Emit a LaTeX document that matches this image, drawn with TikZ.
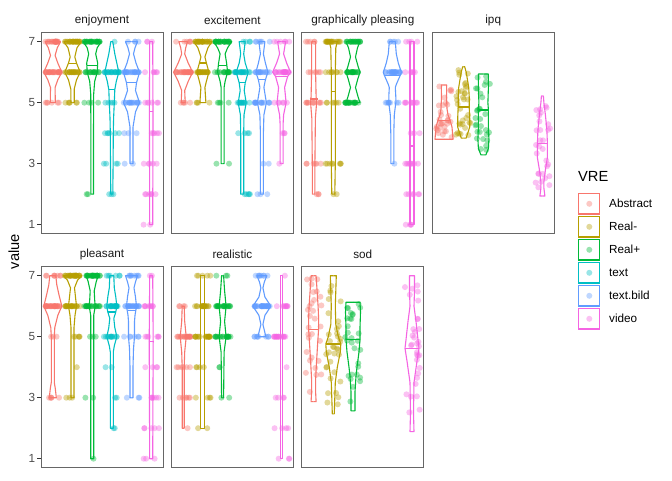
\documentclass[tikz,border=0pt]{standalone}
\usepackage{fontspec}
\setmainfont{Liberation Sans}
\definecolor{cA}{HTML}{F8766D}
\definecolor{cB}{HTML}{B79F00}
\definecolor{cC}{HTML}{00BA38}
\definecolor{cD}{HTML}{00BFC4}
\definecolor{cE}{HTML}{619CFF}
\definecolor{cF}{HTML}{F564E3}
\definecolor{axtxt}{HTML}{4D4D4D}
\definecolor{striptxt}{HTML}{1A1A1A}
\tikzset{
  dotp/.style={circle,inner sep=0pt,minimum size=6pt,draw=none,fill=#1,fill opacity=0.4},
  vln/.style={draw=#1,line width=1.1pt,line join=round},
  pborder/.style={draw=black!60,line width=0.9pt},
  tickln/.style={draw=black!80,line width=0.9pt},
  ticklab/.style={anchor=east,inner sep=0pt,text=axtxt,font=\fontsize{11.73}{13}\selectfont},
  striplab/.style={inner sep=0pt,text=striptxt,font=\fontsize{11.73}{13}\selectfont},
  legkey/.style={draw=#1,line width=1.1pt,fill=white},
  leglab/.style={anchor=west,inner sep=0pt,font=\fontsize{11.73}{13}\selectfont},
  bigtxt/.style={inner sep=0pt,font=\fontsize{14.67}{16}\selectfont}
}
\newcommand\pts[3]{\foreach \pv/\pn in {#3}{\foreach \pk in {1,...,\pn}{\pgfmathsetmacro\jx{#1+7.9*rand}\node[dotp=#2] at (\jx,\pv) {};}}}
% continuous points: cx, colour, low, high, list centre/spread/count
\newcommand\cpts[5]{\foreach \mc/\ms/\mn in {#5}{\foreach \pk in {1,...,\mn}{\pgfmathsetmacro\jx{#1+7.9*rand}\pgfmathsetmacro\jy{max(#3,min(#4,\mc+\ms*rand))}\node[dotp=#2] at (\jx,\jy) {};}}}
\newcommand\vio[4]{\foreach \sg in {1,-1}{\draw[vln=#2,xshift=#1pt,xscale=\sg] (0,#3) \foreach \vv/\ww in {#4}{-- (\ww,\vv)};}}
\newcommand\med[4]{\draw[vln=#2] ({#1-#4},#3) -- ({#1+#4},#3);}
\newcommand\yticks{\foreach \t in {1,3,5,7}{\draw[tickln] (-3.7,\t) -- (0,\t); \node[ticklab] at (-5.6,\t) {\t};}}
\newcommand\pframe[2]{\draw[pborder] (0,0.7) rectangle (122,7.3); \node[striplab] (#1) at (61,7.3) [yshift=12pt] {#2};}
\begin{document}
\begin{tikzpicture}[x=1pt,y=1pt]
\pgfmathsetseed{4242}
\fill[white] (0,0) rectangle (672,480);
\useasboundingbox (0,0) rectangle (672,480);
% ---------------- enjoyment
\begin{scope}[shift={(41pt,224.8pt)},y=30.5pt]
\pts{11.8}{cA}{7/20,6/25,5/6}
\pts{31.5}{cB}{7/25,6/20,5/6}
\pts{51.2}{cC}{7/25,6/15,5/4,2/2}
\pts{70.8}{cD}{7/1,6/20,5/5,4/6,3/4,2/3}
\pts{90.5}{cE}{7/4,6/20,5/15,4/3,3/2}
\pts{110.2}{cF}{7/3,6/5,5/6,4/5,3/5,2/6,1/2}
\vio{11.8}{cA}{7}{7/7.7,6.8/4.5,6.55/2.3,6.3/5,6/9,5.75/5,5.5/2.3,5/2.5,5/0}
\vio{31.5}{cB}{7}{7/8.7,6.8/4.5,6.5/2.3,6.3/4,6/7.7,5.75/4,5.45/1.7,5/1.7,5/0}
\med{31.5}{cB}{6.28}{4}
\vio{51.2}{cC}{7}{7/9,6.8/5,6.6/3.5,6.3/5.5,6/5,5.7/2.5,5.3/1.5,4/1.3,2/1.3,2/0}
\med{51.2}{cC}{6.22}{5.3}
\vio{70.8}{cD}{7}{7/1,6.6/3,6/7,5.7/4.5,5.43/3,5/2.5,4.5/1.8,4/1.5,3/1.3,2/1,2/0}
\med{70.8}{cD}{5.43}{3}
\vio{90.5}{cE}{7}{7/6,6.8/3.5,6.6/2,6.3/4.5,6/8,5.65/5,5.4/4,5/8,4.7/4,4.2/1.5,3/1.5,3/0}
\med{90.5}{cE}{5.65}{5}
\vio{110.2}{cF}{7}{7/1.5,4.7/1.8,1/1.5,1/0}
\med{110.2}{cF}{4.7}{1.8}
\yticks
\pframe{s1}{enjoyment}
\end{scope}
% ---------------- excitement
\begin{scope}[shift={(171.4pt,224.8pt)},y=30.5pt]
\pts{11.8}{cA}{7/6,6/25,5/5}
\pts{31.5}{cB}{7/25,6/20,5/4}
\pts{51.2}{cC}{7/25,6/15,5/4,3/2}
\pts{70.8}{cD}{7/4,6/20,5/12,4/4,2/5}
\pts{90.5}{cE}{7/6,6/15,5/15,3/2,2/3}
\pts{110.2}{cF}{7/6,6/20,5/6,4/3,3/1}
\vio{11.8}{cA}{7}{7/4.3,6.8/2.5,6.6/1.5,6.3/5,6/9.5,5.7/5,5.4/1.5,5/2,5/0}
\vio{31.5}{cB}{7}{7/9,6.8/5,6.5/2,6.3/3.5,6/6,5.7/3.5,5.5/2,5/3,5/0}
\med{31.5}{cB}{6.3}{3.5}
\vio{51.2}{cC}{7}{7/9,6.8/5,6.6/2.5,6.3/4,6/5,5.7/2.5,5.5/1.5,3/1.5,3/0}
\med{51.2}{cC}{6.22}{4.5}
\vio{70.8}{cD}{7}{7/3,6.6/1.5,6.3/3,6/6,5.65/3,5.4/2,5/4,4.6/1.8,4/1.5,2/1.5,2/0}
\med{70.8}{cD}{5.65}{3}
\vio{90.5}{cE}{7}{7/3,6.6/1.5,6.3/3.5,6/6,5.75/3.5,5.5/2,5/4.5,4.6/2,4/1.5,2/1.5,2/0}
\med{90.5}{cE}{5.75}{3.5}
\vio{110.2}{cF}{7}{7/4,6.8/3,6.6/2,6.3/5,6/9,5.86/6,5.5/3,5/4.5,4.6/2,4.3/1.5,3/1.5,3/0}
\med{110.2}{cF}{5.86}{6}
\pframe{s2}{excitement}
\end{scope}
% ---------------- graphically pleasing
\begin{scope}[shift={(301.8pt,224.8pt)},y=30.5pt]
\pts{11.8}{cA}{7/5,6/6,5/10,3/6,2/3}
\pts{31.5}{cB}{7/20,6/8,5/6,3/8,2/2}
\pts{51.2}{cC}{7/20,6/20,5/20}
\pts{90.5}{cE}{7/5,6/20,5/8,3/1}
\pts{110.2}{cF}{7/4,6/5,5/8,4/3,3/8,2/6,1/4}
\vio{11.8}{cA}{7}{7/2,6/2,5.2/2.5,5/3,4.5/1.8,3/1.3,2/1.3,2/0}
\med{11.8}{cA}{5.12}{4}
\vio{31.5}{cB}{7}{7/4,6.8/2.5,6/2,5/2,3/2,2/1.5,2/0}
\med{31.5}{cB}{5.36}{2.5}
\vio{51.2}{cC}{7}{7/7,6.8/4.5,6.5/2.5,6.2/5,6/7,5.8/5,5.5/2.5,5.2/5,5/7,5/0}
\vio{90.5}{cE}{7}{7/3,6.6/4,6.3/6,6/9,5.9/8,5.6/4,5.5/3,5.2/3.5,5/3.5,4.6/2,4/1.5,3/1.5,3/0}
\med{90.5}{cE}{5.9}{8}
\vio{110.2}{cF}{7}{7/2,3.58/2,1/2,1/0}
\med{110.2}{cF}{3.58}{2.5}
\pframe{s3}{graphically pleasing}
\end{scope}
% ---------------- ipq
\begin{scope}[shift={(432.2pt,224.8pt)},y=30.5pt]
\cpts{11.8}{cA}{3.8}{5.58}{4.2/0.4/20,5.1/0.5/10}
\cpts{31.5}{cB}{3.84}{6.18}{5.0/1.1/25,4.2/0.3/8}
\cpts{51.2}{cC}{3.29}{5.94}{4.6/1.3/30}
\cpts{110.2}{cF}{1.94}{5.22}{3.6/1.4/30}
\vio{11.8}{cA}{5.58}{5.58/2.7,5.2/2.5,4.8/3,4.6/4,4.43/6,4.2/8,4.0/8.5,3.8/9,3.8/0}
\med{11.8}{cA}{4.43}{6}
\vio{31.5}{cB}{6.18}{6.18/1,6.0/2.5,5.5/5,5.2/5.5,4.86/5.5,4.5/6,4.2/6,4.0/4,3.84/2.5,3.84/0}
\med{31.5}{cB}{4.86}{5.5}
\vio{51.2}{cC}{5.94}{5.94/5,5.5/5,5.0/4.5,4.76/5,4.2/5,3.8/5.5,3.5/5,3.29/2.5,3.29/0}
\med{51.2}{cC}{4.76}{5}
\vio{110.2}{cF}{5.22}{5.22/1,5.0/1.5,4.6/3,4.1/4.5,3.65/5,3.2/5,2.8/3,2.4/1.5,2.2/1.5,1.94/2.5,1.94/0}
\med{110.2}{cF}{3.65}{5}
\pframe{s4}{ipq}
\end{scope}
% ---------------- pleasant
\begin{scope}[shift={(41pt,-9.2pt)},y=30.5pt]
\pts{11.8}{cA}{7/8,6/25,5/3,3/5}
\pts{31.5}{cB}{7/25,6/20,5/5,4/1,3/3}
\pts{51.2}{cC}{7/25,6/20,5/3,3/2,1/1}
\pts{70.8}{cD}{7/6,6/20,5/12,4/2,3/2,2/2}
\pts{90.5}{cE}{7/8,6/20,5/6,3/3}
\pts{110.2}{cF}{7/2,6/8,5/6,4/4,3/6,2/5,1/3}
\vio{11.8}{cA}{7}{7/3,6.7/4,6.4/6,6/9,5.7/5,5.3/2,5/1.5,3.5/1.5,3.3/2.5,3/3.5,3/0}
\vio{31.5}{cB}{7}{7/9,6.85/5,6.6/2,6.3/3,6/4,5.7/2.5,5.3/1.5,3/1.5,3/0}
\vio{51.2}{cC}{7}{7/6,6.8/4,6.5/2,6.2/2.5,6/3,5.7/1.5,1/1.5,1/0}
\vio{70.8}{cD}{7}{7/2,6.6/2.5,6.3/4,6/5,5.81/4,5.6/2,5.3/3,5/5,4.7/2.5,4.5/1.5,2/1.5,2/0}
\med{70.8}{cD}{5.81}{4}
\vio{90.5}{cE}{7}{7/6,6.8/4,6.6/2.5,6.3/4,6/5,5.7/3.5,5.5/3,5/3,4.6/2,4/1.5,3/1.5,3/0}
\med{90.5}{cE}{5.85}{4}
\vio{110.2}{cF}{7}{7/1.5,4.83/2,1/1.5,1/0}
\med{110.2}{cF}{4.83}{2.5}
\yticks
\pframe{s5}{pleasant}
\end{scope}
% ---------------- realistic
\begin{scope}[shift={(171.4pt,-9.2pt)},y=30.5pt]
\pts{11.8}{cA}{6/4,5/18,4/6,3/6,2/1}
\pts{31.5}{cB}{7/5,6/18,5/18,4/4,3/4,2/2}
\pts{51.2}{cC}{7/3,6/20,5/18,4/2,3/2}
\pts{90.5}{cE}{7/8,6/25,5/8}
\pts{110.2}{cF}{7/1,6/8,5/15,4/1,3/4,2/4,1/3}
\vio{11.8}{cA}{6}{6/1,5.5/1.5,5.0/3,4.5/1.5,4/1,2/1,2/0}
\vio{31.5}{cB}{7}{7/2,2/2,2/0}
\vio{51.2}{cC}{7}{7/1,6.5/2,6/3.5,5.5/2,5/3.5,4.5/1.5,3/1,3/0}
\vio{90.5}{cE}{7}{7/5,6.8/2.5,6.6/1,6.3/3,6/9,5.7/3,5.4/1,5.2/2.5,5/4,5/0}
\vio{110.2}{cF}{7}{7/1,1/1,1/0}
\pframe{s6}{realistic}
\end{scope}
% ---------------- sod
\begin{scope}[shift={(301.8pt,-9.2pt)},y=30.5pt]
\cpts{11.8}{cA}{2.87}{7}{5.6/1.4/24,3.8/0.8/6}
\cpts{31.5}{cB}{2.47}{7}{4.7/2.0/22,4.7/0.4/12}
\cpts{51.2}{cC}{2.57}{6.13}{4.8/1.3/26,3.2/0.6/4}
\cpts{110.2}{cF}{1.89}{7}{4.6/2.2/24,4.8/0.5/8}
\vio{11.8}{cA}{7}{7/2.5,6.5/3.5,6.0/4.5,5.6/5,5.25/5,4.75/4,4.2/3,3.6/2,3.2/2,2.87/2.5,2.87/0}
\med{11.8}{cA}{5.25}{5}
\vio{31.5}{cB}{7}{7/3,6.5/2.5,6/2,5.4/2.5,5.0/5,4.76/7.5,4.5/7,4.0/4,3.5/2,3.0/1.5,2.47/1,2.47/0}
\med{31.5}{cB}{4.76}{7.5}
\vio{51.2}{cC}{6.13}{6.13/7,5.8/7.5,5.3/7,4.91/7,4.5/6,4.0/4,3.7/3,3.2/2,2.57/2,2.57/0}
\med{51.2}{cC}{4.91}{7}
\vio{110.2}{cF}{7}{7/2.5,6.5/2.5,6.0/2,5.5/4,4.9/6,4.62/7,4.2/5,3.5/2,2.5/1.5,1.89/2,1.89/0}
\med{110.2}{cF}{4.62}{7}
\pframe{s7}{sod}
\end{scope}
% ---------------- axis title
\node[bigtxt,rotate=90] (ytitle) at (14,228.3) {value};
% ---------------- legend
\node[bigtxt,anchor=west] (legtitle) at (578,303.3) {VRE};
\foreach \col/\lab [count=\i from 0] in {cA/Abstract,cB/Real-,cC/Real+,cD/text,cE/text.bild,cF/video}{
  \pgfmathsetmacro\ly{276.2-23*\i}
  \draw[legkey=\col] (578.8,\ly-10.2) rectangle (599.8,\ly+10.2);
  \node[dotp=\col] (k\i) at (589.3,\ly) {};
  \node[leglab] (l\i) at (609,\ly) {\lab};
}
\end{tikzpicture}
\end{document}
